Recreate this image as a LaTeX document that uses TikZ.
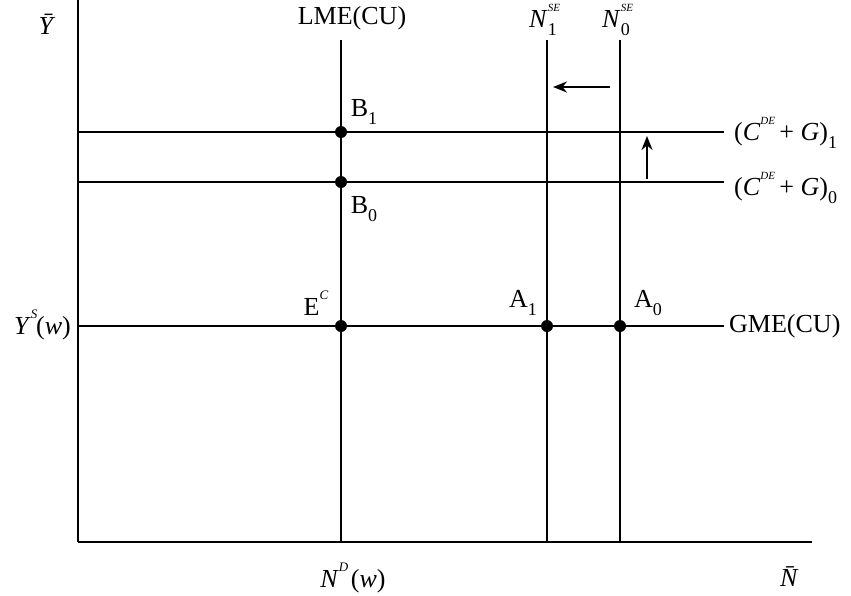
\documentclass[tikz,border=0pt]{standalone}
\usepackage{fontspec}
\setmainfont{Liberation Serif}
\usetikzlibrary{arrows.meta}
\newcommand{\sps}[1]{\raisebox{0.6em}{\fontsize{11}{11}\selectfont\itshape #1}}
\newcommand{\spb}[1]{\raisebox{0.6em}{\fontsize{13}{13}\selectfont\itshape #1}}
\newcommand{\sbs}[1]{\raisebox{-0.3em}{\fontsize{18}{18}\selectfont #1}}
\tikzset{
  thinln/.style={line width=1.6pt},
  midln/.style={line width=2pt},
  thickln/.style={line width=2.8pt},
  pt/.style={circle,fill=black,inner sep=0pt,minimum size=12pt},
  lbl/.style={inner sep=1pt,font=\fontsize{26}{28}\selectfont},
  arr/.style={line width=2pt,-{Stealth[length=14pt,width=11pt]}}
}
\begin{document}
\begin{tikzpicture}[x=1pt,y=-1pt]
\useasboundingbox (0,0) rectangle (851,595);
% axes
\coordinate (O) at (78,542);
\coordinate (ytop) at (78,0);
\coordinate (xend) at (812,542);
\draw[thinln] (ytop) -- (O);
\draw[midln] (O) -- (xend);
% verticals
\coordinate (lmeT) at (341,40); \coordinate (lmeB) at (341,542);
\coordinate (n1T) at (547,40); \coordinate (n1B) at (547,542);
\coordinate (n0T) at (620,40); \coordinate (n0B) at (620,542);
\draw[thickln] (lmeT) -- (lmeB);
\draw[thickln] (n1T) -- (n1B);
\draw[midln] (n0T) -- (n0B);
% horizontals
\coordinate (h1L) at (78,132); \coordinate (h1R) at (724,132);
\coordinate (h0L) at (78,182); \coordinate (h0R) at (724,182);
\coordinate (gL) at (78,326); \coordinate (gR) at (724,326);
\draw[midln] (h1L) -- (h1R);
\draw[thickln] (h0L) -- (h0R);
\draw[midln] (gL) -- (gR);
% shift arrows
\coordinate (a1s) at (610,87); \coordinate (a1e) at (553,87);
\draw[arr] (a1s) -- (a1e);
\coordinate (a2s) at (647,179); \coordinate (a2e) at (647,136);
\draw[arr] (a2s) -- (a2e);
% points
\node[pt] (B1) at (341,132) {};
\node[pt] (B0) at (341,182) {};
\node[pt] (EC) at (341,326) {};
\node[pt] (A1) at (547,326) {};
\node[pt] (A0) at (620,326) {};
% labels
\node[lbl] (ybar) at (47,24) {\textit{\=Y}};
\node[lbl] (lme) at (352,18) {LME(CU)};
\node[lbl,anchor=west] (n1) at (528,20) {\textit{N}\rlap{\sbs{1}}\sps{SE}};
\node[lbl,anchor=west] (n0) at (601,20) {\textit{N}\rlap{\sbs{0}}\sps{SE}};
\node[lbl] (lb1) at (364,112) {B\sbs{1}};
\node[lbl] (lb0) at (364,209) {B\sbs{0}};
\node[lbl] (lec) at (316,303) {E\spb{C}};
\node[lbl] (la1) at (523,303) {A\sbs{1}};
\node[lbl] (la0) at (648,303) {A\sbs{0}};
\node[lbl,anchor=west] (cg1) at (733,133) {(\textit{C}\sps{DE}\,+ \textit{G})\sbs{1}};
\node[lbl,anchor=west] (cg0) at (733,188) {(\textit{C}\sps{DE}\,+ \textit{G})\sbs{0}};
\node[lbl,anchor=east] (ys) at (72,325) {\textit{Y}\spb{S}\hspace{-0.05em}(\textit{w})};
\node[lbl,anchor=west] (gme) at (728,326) {GME(CU)};
\node[lbl] (nd) at (353,578) {\textit{N}\spb{D}\hspace{0.1em}(\textit{w})};
\node[lbl] (nbar) at (792,577) {\textit{\=N}};
\end{tikzpicture}
\end{document}
